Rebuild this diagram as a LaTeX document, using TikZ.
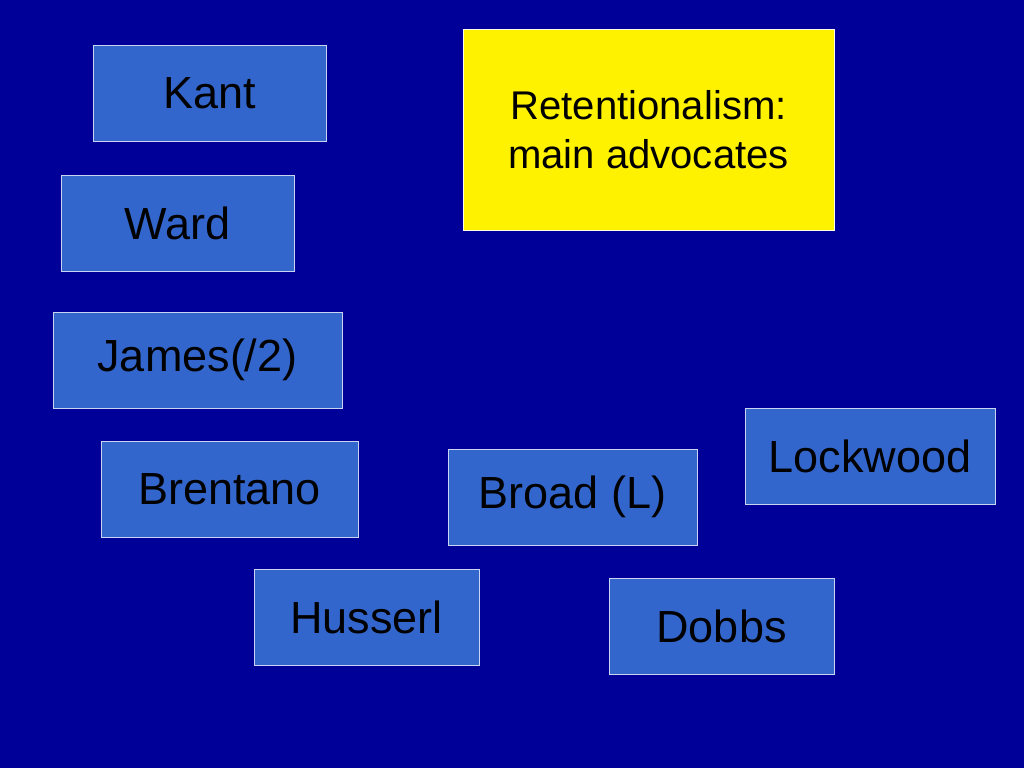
\documentclass[tikz,border=0pt]{standalone}
\usepackage{fontspec}
\setmainfont{Liberation Sans}
\definecolor{bgblue}{HTML}{000099}
\definecolor{boxblue}{HTML}{3366CC}
\definecolor{edgeblue}{HTML}{C8D4F0}
\begin{document}
\begin{tikzpicture}[x=0.025cm, y=-0.025cm,
        personbox/.style={draw=edgeblue, line width=0.6pt, fill=boxblue, inner sep=0pt,
            minimum height=2.4cm, font=\fontsize{32}{38}\selectfont},
        titlebox/.style={draw=white!90!yellow, line width=0.6pt, fill=yellow, inner sep=0pt,
            align=center, font=\fontsize{28.5}{35}\selectfont}]
        \fill[bgblue] (0,0) rectangle (1024,768) ;
        \node[personbox, minimum width=5.825cm] (kant) at (209.5,93.5) {Kant} ;
        \node[personbox, minimum width=5.825cm] (ward) at (177.5,223) {Ward} ;
        \node[personbox, minimum width=7.225cm] (james) at (197.5,360) {James(/2)} ;
        \node[personbox, minimum width=6.425cm] (brentano) at (229.5,489) {Brentano} ;
        \node[personbox, minimum width=5.625cm] (husserl) at (366.5,617) {Husserl} ;
        \node[personbox, minimum width=6.225cm] (broad) at (572.5,497) {Broad (L)} ;
        \node[personbox, minimum width=5.625cm] (dobbs) at (721.5,626) {Dobbs} ;
        \node[personbox, minimum width=6.25cm] (lockwood) at (870,456.5) {Lockwood} ;
        \node[titlebox, minimum width=9.275cm, minimum height=5.025cm] (retention) at (648.5,129.5) {Retentionalism:\\ main advocates} ;
        \end{tikzpicture}
\end{document}
